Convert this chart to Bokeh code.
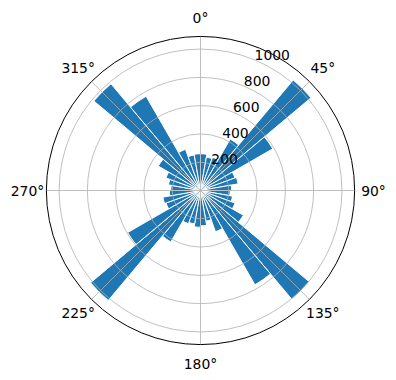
import numpy as np
from bokeh.plotting import figure
from bokeh.models import Range1d, ColumnDataSource
from bokeh.core.properties import value
from bokeh.embed import file_html
from bokeh.resources import INLINE

# ---- data (compass bins of 10 degrees, 0 = north, clockwise) ----
bin_left_deg = list(range(0, 360, 10))
bin_width_deg = 10
counts = [260, 240, 250, 420, 1020, 590, 260, 270, 220,
          210, 230, 260, 350, 1005, 770, 310, 220, 250,
          260, 240, 250, 420, 1015, 595, 260, 270, 220,
          210, 230, 260, 345, 985, 770, 310, 255, 260]
r_ticks = [200, 400, 600, 800, 1000]
r_tick_labels = ["200", "400", "600", "800", "1000"]
theta_ticks = [0, 45, 90, 135, 180, 225, 270, 315]
theta_labels = ["0°", "45°", "90°", "135°", "180°", "225°", "270°", "315°"]
r_max = 1090

# ---- layout ----
W, H = 396, 380
cx, cy = 200, 190          # pixel position of the pole
s = 0.1414                 # pixels per data unit
FONT = "DejaVu Sans"
FS = "13.9px"

p = figure(width=W, height=H, output_backend="svg", toolbar_location=None,
           x_range=Range1d(-cx / s, (W - cx) / s),
           y_range=Range1d(-(H - cy) / s, cy / s),
           x_axis_location=None, y_axis_location=None,
           min_border=0, match_aspect=False)
p.grid.visible = False
p.outline_line_color = None
p.background_fill_color = "white"
p.border_fill_color = "white"

# bars
left = np.array(bin_left_deg, dtype=float)
right = left + bin_width_deg
src = ColumnDataSource(dict(
    r=counts,
    start=np.deg2rad(90 - right),
    end=np.deg2rad(90 - left),
    x=[0] * len(counts), y=[0] * len(counts)))
p.wedge(x="x", y="y", radius="r", start_angle="start", end_angle="end",
        fill_color="#1f77b4", line_color="white", line_width=1, source=src)

# grid circles
p.circle(x=[0] * len(r_ticks), y=[0] * len(r_ticks), radius=r_ticks,
         fill_color=None, line_color="#b0b0b0", line_width=0.8)
# radial grid lines
th = np.deg2rad(theta_ticks)
p.segment(x0=[0] * len(th), y0=[0] * len(th),
          x1=r_max * np.sin(th), y1=r_max * np.cos(th),
          line_color="#b0b0b0", line_width=0.8)
# outer boundary
p.circle(x=[0], y=[0], radius=r_max, fill_color=None,
         line_color="black", line_width=1)

# angle labels
r_lab = 173 / s
p.text(x=r_lab * np.sin(th), y=r_lab * np.cos(th), text=theta_labels,
       text_font=value(FONT), text_font_size=FS, text_color="black",
       text_align="center", text_baseline="middle")

# radial tick labels at 22.5 deg
a = np.deg2rad(22.5)
rt = np.array(r_ticks, dtype=float)
p.text(x=rt * np.sin(a), y=rt * np.cos(a), text=r_tick_labels,
       text_font=value(FONT), text_font_size=FS, text_color="black",
       text_align="left", text_baseline="bottom")

open("out.html", "w").write(file_html(p, INLINE))
